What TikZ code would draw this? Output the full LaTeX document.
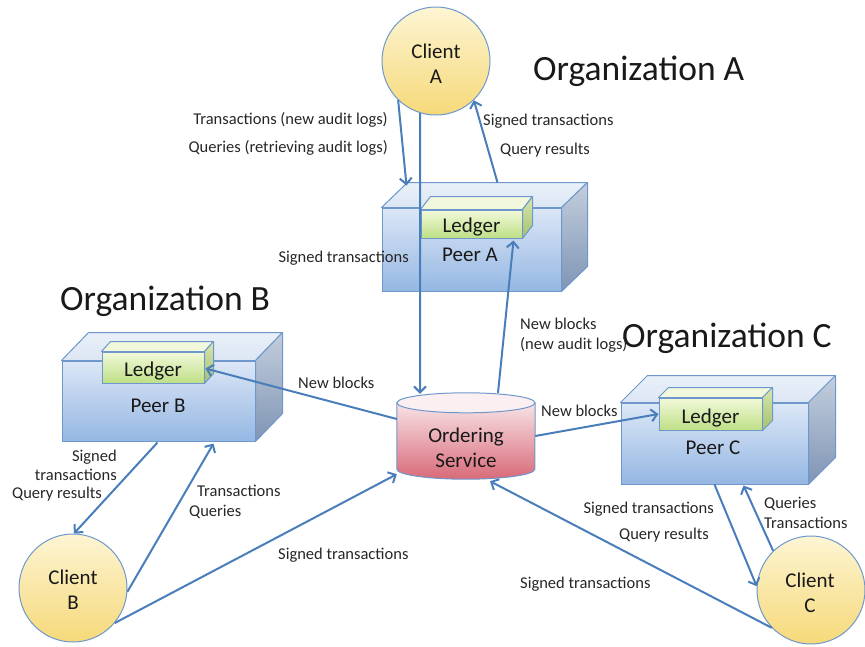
\documentclass[tikz,border=0pt]{standalone}
\usepackage{fontspec}
\setmainfont{Carlito}
\usetikzlibrary{arrows.meta,calc}

\definecolor{flow}{HTML}{4A7EBB}
\definecolor{edge}{HTML}{6E98CC}
\definecolor{clientTop}{HTML}{FDF5D3}
\definecolor{clientBot}{HTML}{F6D97A}
\definecolor{peerTop}{HTML}{DCE7F6}
\definecolor{peerBot}{HTML}{95B7E3}
\definecolor{peerSideTop}{HTML}{C3CEDD}
\definecolor{peerSideBot}{HTML}{7F95B4}
\definecolor{peerLidTop}{HTML}{E9F0F9}
\definecolor{peerLidBot}{HTML}{DCE6F3}
\definecolor{ledTop}{HTML}{F2F9DA}
\definecolor{ledBot}{HTML}{BEDF86}
\definecolor{ledSideTop}{HTML}{D7E6B0}
\definecolor{ledSideBot}{HTML}{A4C26C}
\definecolor{ledLid}{HTML}{F1F8DC}
\definecolor{ordTop}{HTML}{F8E3E6}
\definecolor{ordBot}{HTML}{D86A79}
\definecolor{ordCap}{HTML}{FBEFF1}
\definecolor{ink}{HTML}{262626}

% lid and side faces of a box whose front face is the node #1;
% #2 is the depth offset, #3 / #4 the lid and side shadings
\newcommand\cuboidfaces[4]{%
  \shade[#3, draw=edge, line width=1pt, line join=round]
    (#1.north west) -- ($(#1.north west)+(#2)$) -- ($(#1.north east)+(#2)$)
    -- (#1.north east) -- cycle;
  \shade[#4, draw=edge, line width=1pt, line join=round]
    (#1.north east) -- ($(#1.north east)+(#2)$) -- ($(#1.south east)+(#2)$)
    -- (#1.south east) -- cycle;
}

\begin{document}
\begin{tikzpicture}[x=1pt, y=-1pt,
  flowline/.style={draw=flow, line width=2pt,
    -{Straight Barb[length=6pt,width=12pt]}},
  lbl/.style={font=\fontsize{16.5}{18}\selectfont, text=ink, inner sep=0pt,
    text height=0.75em, text depth=0.25em, yshift=-4pt},
  orgtitle/.style={font=\fontsize{35.5}{40}\selectfont, text=black!90,
    inner sep=0pt, text height=0.75em, text depth=0.25em, yshift=-9pt},
  bigtext/.style={font=\fontsize{21}{25}\selectfont, text=black!90,
    inner sep=0pt, align=center},
  client/.style={circle, draw=edge, line width=1pt, inner sep=0pt,
    minimum size=108pt, top color=clientTop, bottom color=clientBot},
  peerfront/.style={rectangle, draw=edge, line width=1pt, inner sep=0pt,
    top color=peerTop, bottom color=peerBot},
  ledgerfront/.style={rectangle, draw=edge, line width=1pt, inner sep=0pt,
    top color=ledTop, bottom color=ledBot},
  peerlid/.style={top color=peerLidTop, bottom color=peerLidBot},
  peerside/.style={top color=peerSideTop, bottom color=peerSideBot},
  ledgerlid/.style={top color=ledLid, bottom color=ledLid},
  ledgerside/.style={top color=ledSideTop, bottom color=ledSideBot},
]
\useasboundingbox (0,0) rectangle (865,646);

% ---------- peers with their ledgers ----------
\node[peerfront, minimum width=179pt, minimum height=83pt] (peerA) at (471.5,249.5) {};
\cuboidfaces{peerA}{26,-25}{peerlid}{peerside}
\node[ledgerfront, minimum width=101pt, minimum height=28pt] (ledgerA) at (471.5,224) {};
\cuboidfaces{ledgerA}{10,-13}{ledgerlid}{ledgerside}
\node[bigtext] (ledgerAtext) at (471.5,227) {Ledger};
\node[bigtext] (peerAtext) at (470,255) {Peer A};

\node[peerfront, minimum width=193pt, minimum height=80pt] (peerB) at (158.5,401) {};
\cuboidfaces{peerB}{27,-28}{peerlid}{peerside}
\node[ledgerfront, minimum width=102pt, minimum height=31pt] (ledgerB) at (153,367.5) {};
\cuboidfaces{ledgerB}{9,-10}{ledgerlid}{ledgerside}
\node[bigtext] (ledgerBtext) at (153,371) {Ledger};
\node[bigtext] (peerBtext) at (158,406) {Peer B};

\node[peerfront, minimum width=187pt, minimum height=81pt] (peerC) at (714.5,443.5) {};
\cuboidfaces{peerC}{27,-27}{peerlid}{peerside}
\node[ledgerfront, minimum width=103pt, minimum height=32pt] (ledgerC) at (710.5,414) {};
\cuboidfaces{ledgerC}{10,-10}{ledgerlid}{ledgerside}
\node[bigtext] (ledgerCtext) at (710.5,418) {Ledger};
\node[bigtext] (peerCtext) at (713,448) {Peer C};

% ---------- ordering service (cylinder) ----------
\node[minimum width=138pt, minimum height=86pt, inner sep=0pt] (order) at (466,436) {};
\shade[top color=ordTop, bottom color=ordBot, draw=edge, line width=1pt]
  ($(order.north west)+(0,10)$) -- ($(order.south west)+(0,-10)$)
  arc[start angle=180, end angle=0, x radius=69, y radius=10]
  -- ($(order.north east)+(0,10)$) -- cycle;
\draw[fill=ordCap, draw=edge, line width=1pt]
  ($(order.north)+(0,10)$) ellipse[x radius=69, y radius=10];
\node[bigtext] (ordertext) at (466,448) {Ordering\\Service};

% ---------- clients ----------
\node[client] (clientA) at (436,61) {};
\node[bigtext] (clientAtext) at (436,64) {Client\\A};
\node[client] (clientB) at (73,588) {};
\node[bigtext] (clientBtext) at (73,590) {Client\\B};
\node[client] (clientC) at (811,590) {};
\node[bigtext] (clientCtext) at (810,593) {Client\\C};

% ---------- organisation titles ----------
\node[orgtitle, anchor=west] (orgA) at (533,69) {Organization A};
\node[orgtitle, anchor=west] (orgB) at (60,299) {Organization B};
\node[orgtitle, anchor=west] (orgC) at (622,336) {Organization C};

% ---------- message flows ----------
\draw[flowline] (clientA.226) -- ($(peerA.north west)+(25,-22)$);
\draw[flowline] ($(peerA.north west)+(116,-25)$) -- (clientA.314);
\draw[flowline] (clientA.253) -- ($(order.north)+(-46,1)$);
\draw[flowline] ($(order.north)+(32,0)$) -- ($(ledgerA.south east)+(-9,2)$);
\draw[flowline] ($(order.west)+(0,-17)$) -- ($(ledgerB.east)+(1,1)$);
\draw[flowline] (order.east) -- (ledgerC.west);
\draw[flowline] ($(peerB.south)+(-1,1)$) -- (clientB.89);
\draw[flowline] (clientB.356) -- ($(peerB.south)+(55,2)$);
\draw[flowline] (clientB.320) -- ($(order.south west)+(0,-5)$);
\draw[flowline] (peerC.south) -- (clientC.176);
\draw[flowline] (clientC.134) -- ($(peerC.south)+(29,1)$);
\draw[flowline] (clientC.224) -- ($(order.south)+(24,2)$);

% ---------- flow labels ----------
\node[lbl, anchor=east] (lTxA) at (388,118) {Transactions (new audit logs)};
\node[lbl, anchor=east] (lQA) at (388,146) {Queries (retrieving audit logs)};
\node[lbl, anchor=west] (lSigA) at (483,119) {Signed transactions};
\node[lbl, anchor=west] (lResA) at (500,148) {Query results};
\node[lbl, anchor=east] (lSigAO) at (409,256) {Signed transactions};
\node[lbl, anchor=west] (lBlkA) at (520,323) {New blocks};
\node[lbl, anchor=west] (lBlkA2) at (520,343) {(new audit logs)};
\node[lbl, anchor=west] (lBlkB) at (298,382) {New blocks};
\node[lbl, anchor=west] (lBlkC) at (541,410) {New blocks};
\node[lbl, anchor=east] (lSigB1) at (117,455) {Signed};
\node[lbl, anchor=east] (lSigB2) at (117,474) {transactions};
\node[lbl, anchor=east] (lResB) at (102,492) {Query results};
\node[lbl, anchor=west] (lTxB) at (197,490) {Transactions};
\node[lbl, anchor=west] (lQB) at (189,510) {Queries};
\node[lbl, anchor=west] (lSigBO) at (278,553) {Signed transactions};
\node[lbl, anchor=east] (lSigC) at (714,507) {Signed transactions};
\node[lbl, anchor=east] (lResC) at (709,533) {Query results};
\node[lbl, anchor=west] (lSigCO) at (520,582) {Signed transactions};
\node[lbl, anchor=west] (lQC) at (764,502) {Queries};
\node[lbl, anchor=west] (lTxC) at (764,522) {Transactions};
\end{tikzpicture}
\end{document}
